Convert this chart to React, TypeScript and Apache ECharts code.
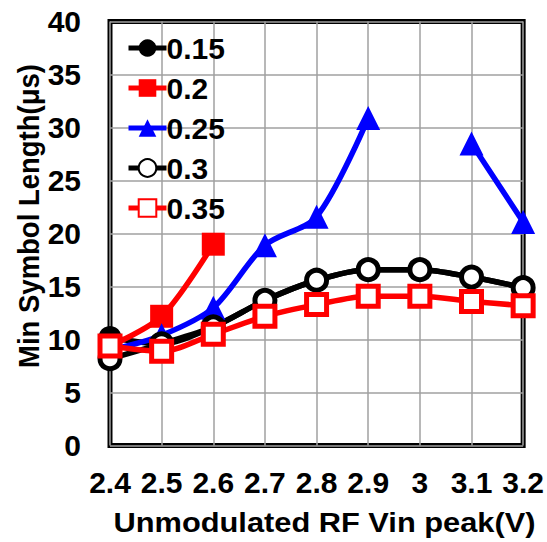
import React, { useEffect, useRef } from "react";
import * as echarts from "echarts";

const categories = ["2.4", "2.5", "2.6", "2.7", "2.8", "2.9", "3", "3.1", "3.2"];
const s015 = [10.2, 9.6, 11.2, 13.7, 15.6, 16.6, 16.6, 15.9, 14.9];
const s020 = [9.4, 12.2, 19.0, null, null, null, null, null, null];
const s025 = [9.0, 10.4, 13.0, 18.9, 21.6, 30.9, null, 28.5, 21.1];
const s030 = [8.2, 9.6, 11.2, 13.7, 15.6, 16.6, 16.6, 15.9, 14.9];
const s035 = [9.4, 8.9, 10.5, 12.2, 13.3, 14.1, 14.1, 13.6, 13.2];
const seriesNames = ["0.15", "0.2", "0.25", "0.3", "0.35"];

const FONT = "Arial, 'Liberation Sans', sans-serif";

export default function App() {
  const ref = useRef<HTMLDivElement>(null);
  useEffect(() => {
    if (!ref.current) return;
    const chart = echarts.init(ref.current, null, { renderer: "svg" });
    const mk = (
      name: string,
      data: (number | null)[],
      symbol: string,
      size: number,
      lineColor: string,
      fill: string,
      border: number
    ) => ({
      name,
      type: "line",
      data,
      smooth: 0.3,
      connectNulls: false,
      symbol,
      symbolSize: size,
      showAllSymbol: true,
      lineStyle: { color: lineColor, width: 5.5 },
      itemStyle: { color: fill, borderColor: lineColor, borderWidth: border, opacity: 1 },
      emphasis: { disabled: true },
    });
    chart.setOption({
      animation: false,
      backgroundColor: "#fff",
      grid: {
        left: 110,
        right: 23,
        top: 21.6,
        bottom: 96.4,
        show: true,
        borderColor: "#000",
        borderWidth: 5,
        backgroundColor: "transparent",
      },
      legend: {
        orient: "vertical",
        left: 121,
        top: 28,
        itemWidth: 38,
        itemHeight: 22,
        itemGap: 10,
        data: seriesNames,
        lineStyle: { width: 5 },
        textStyle: {
          color: "#000",
          fontSize: 30,
          fontWeight: "bold",
          fontFamily: FONT,
          lineHeight: 28,
          padding: [0, 0, 0, -5],
        },
        selectedMode: false,
      },
      xAxis: {
        type: "category",
        data: categories,
        boundaryGap: false,
        axisLine: { show: false },
        axisTick: { show: false },
        axisLabel: {
          color: "#000",
          fontSize: 30,
          fontWeight: "bold",
          fontFamily: FONT,
          margin: 22,
          interval: 0,
        },
        splitLine: { show: true, lineStyle: { color: "#a0a0a0", width: 1.5 } },
      },
      yAxis: {
        type: "value",
        min: 0,
        max: 40,
        interval: 5,
        axisLine: { show: false },
        axisTick: { show: false },
        axisLabel: {
          color: "#000",
          fontSize: 30,
          fontWeight: "bold",
          fontFamily: FONT,
          margin: 29,
        },
        splitLine: { show: true, lineStyle: { color: "#a0a0a0", width: 1.5 } },
      },
      graphic: [
        {
          type: "text",
          x: 324.5,
          y: 522,
          scaleX: 1.1,
          style: {
            text: "Unmodulated RF Vin peak(V)",
            textAlign: "center",
            textVerticalAlign: "middle",
            align: "center",
            verticalAlign: "middle",
            fill: "#000",
            font: `bold 28px ${FONT}`,
          },
        },
        {
          type: "text",
          x: 29,
          y: 216,
          rotation: Math.PI / 2,
          scaleY: 1.1,
          style: {
            text: "Min Symbol Length(μs)",
            textAlign: "center",
            textVerticalAlign: "middle",
            align: "center",
            verticalAlign: "middle",
            fill: "#000",
            font: `bold 27.5px ${FONT}`,
          },
        },
      ],
      series: [
        mk(seriesNames[0], s015, "circle", 23, "#000", "#000", 0),
        mk(seriesNames[1], s020, "rect", 23, "#ff0000", "#ff0000", 0),
        mk(seriesNames[2], s025, "triangle", 24, "#0000ff", "#0000ff", 0),
        mk(seriesNames[3], s030, "circle", 20, "#000", "#fff", 5),
        mk(seriesNames[4], s035, "rect", 20, "#ff0000", "#fff", 5),
      ],
    });
    return () => chart.dispose();
  }, []);
  return (
    <div
      ref={ref}
      style={{ position: "fixed", left: 0, top: 0, width: 547, height: 542 }}
    />
  );
}
